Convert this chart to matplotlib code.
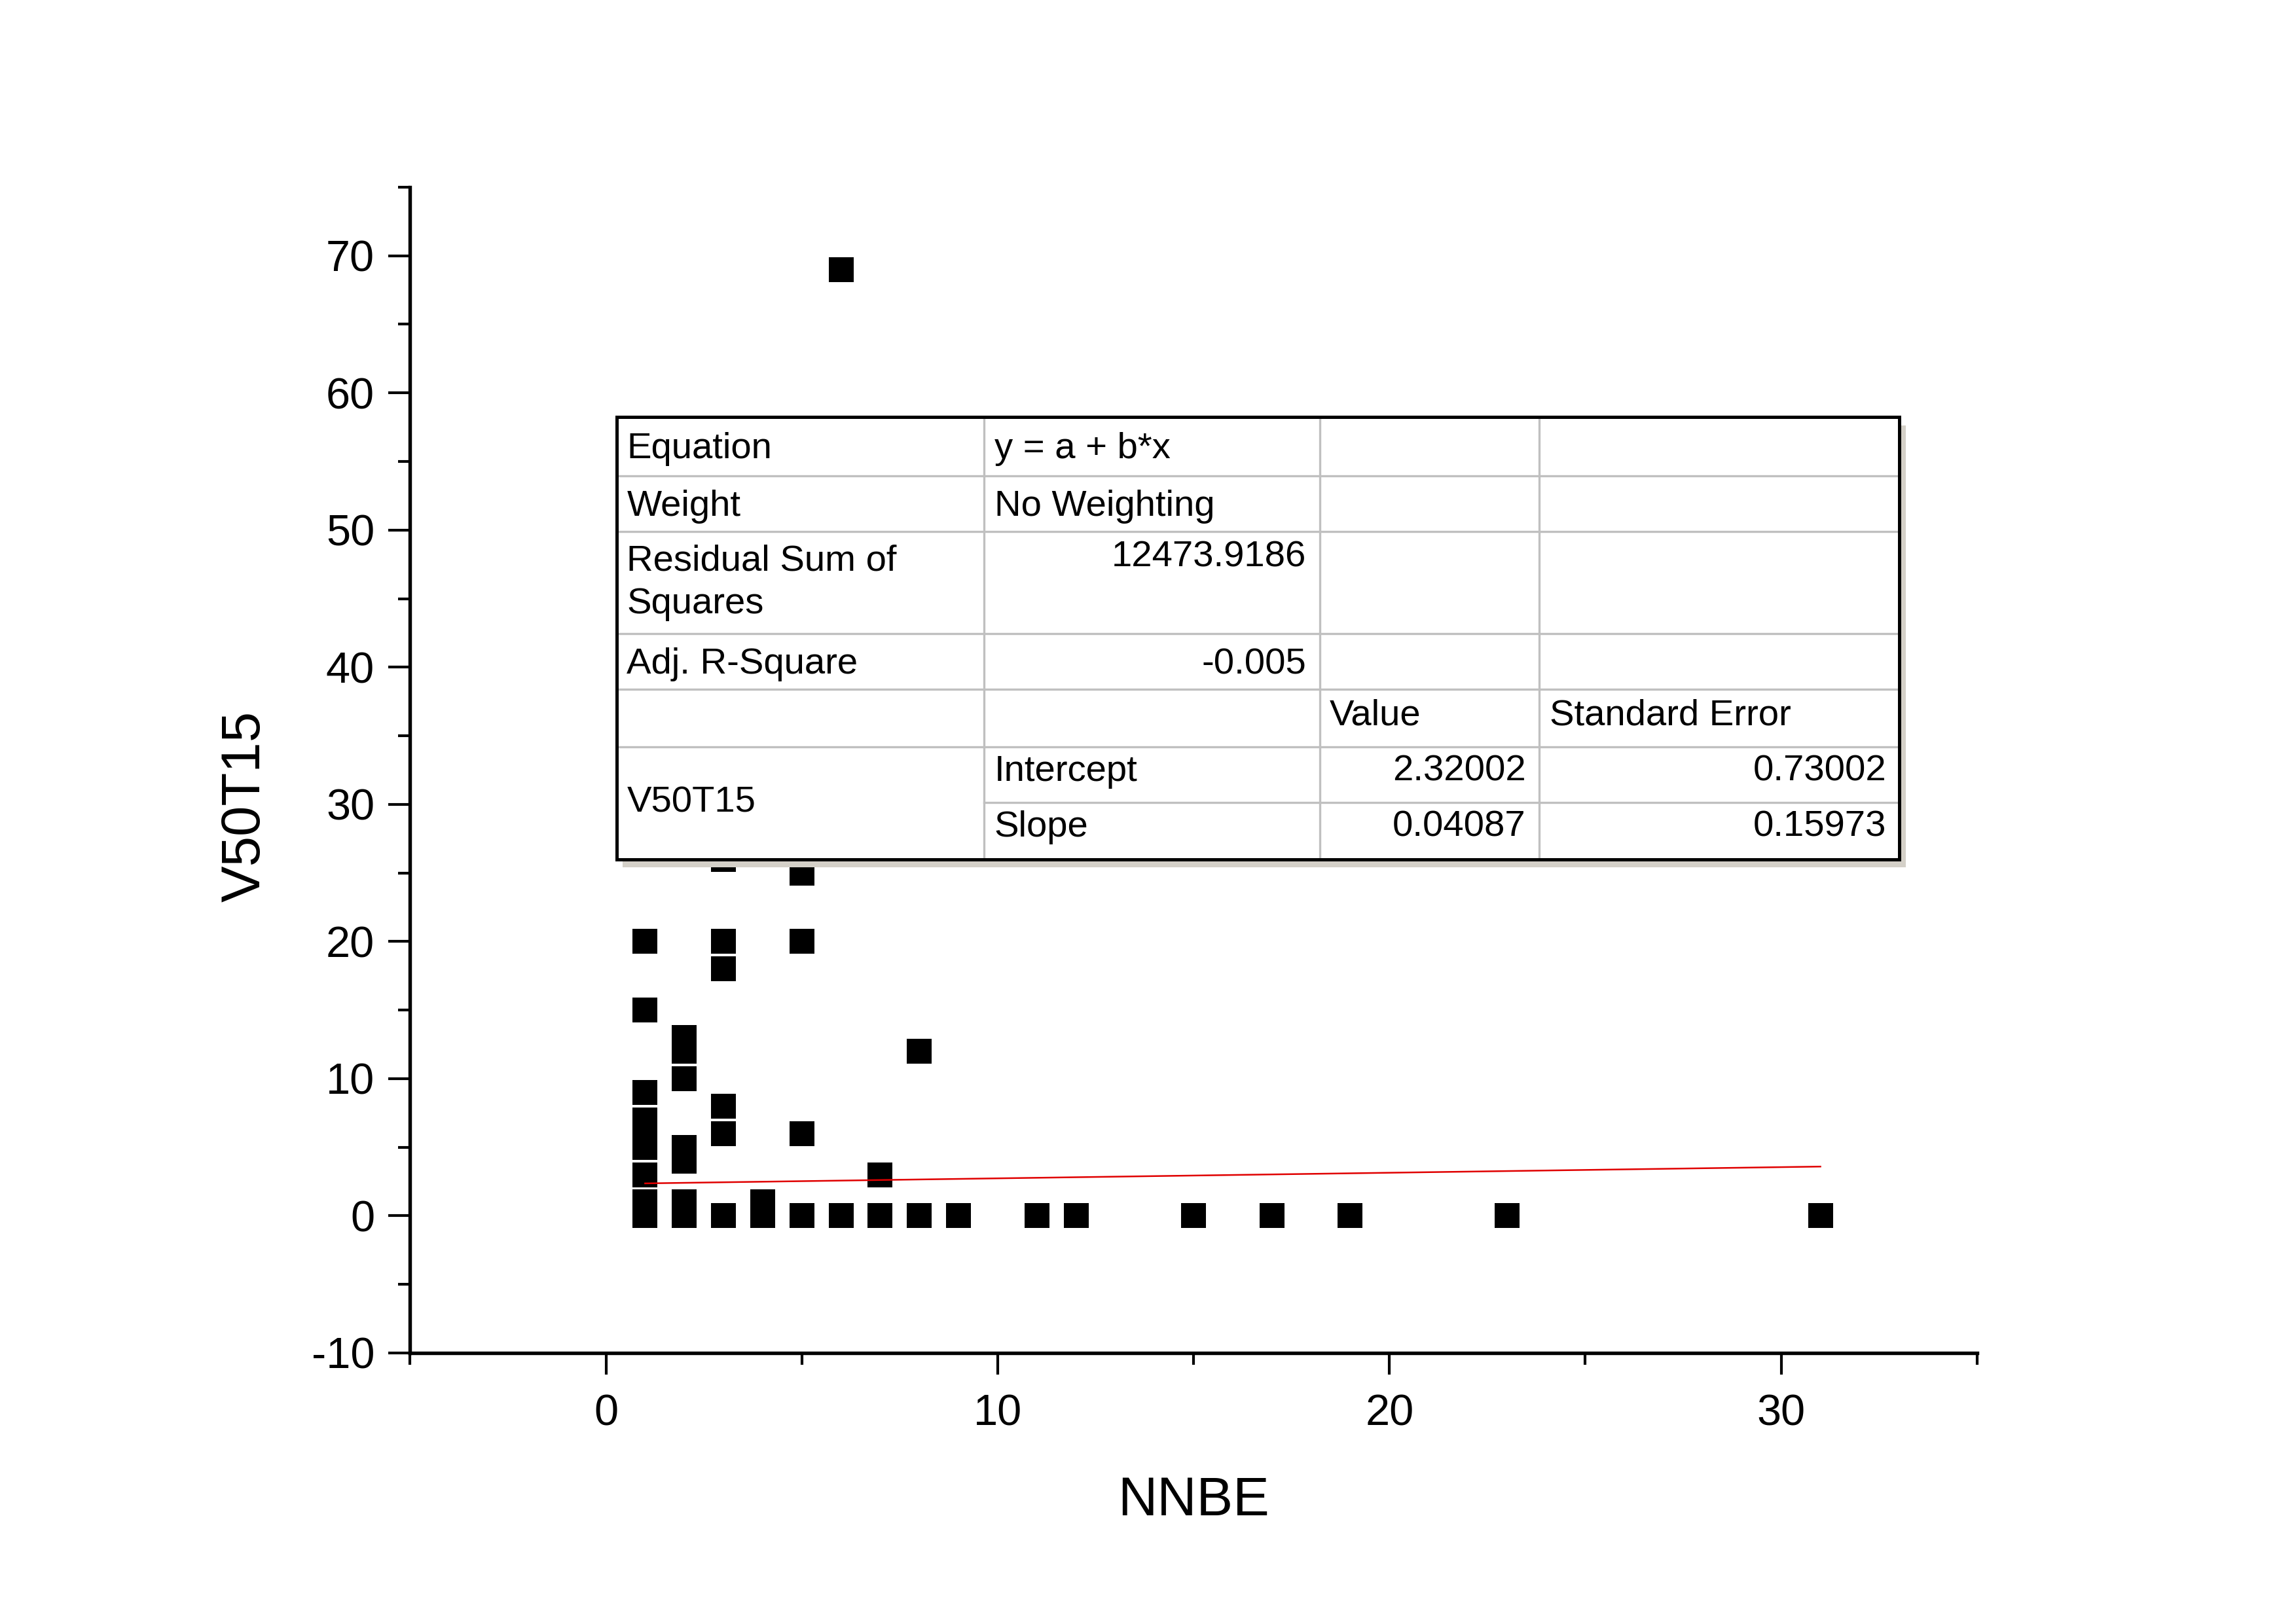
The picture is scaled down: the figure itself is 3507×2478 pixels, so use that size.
import matplotlib
matplotlib.use("Agg")
import matplotlib.pyplot as plt
from matplotlib.patches import Rectangle
from matplotlib.ticker import MultipleLocator

plt.rcParams['font.family'] = ['Liberation Sans', 'DejaVu Sans']
plt.rcParams['axes.unicode_minus'] = False

# datos
nnbe = [1, 1, 1, 1, 1, 1, 1, 1, 1,
        2, 2, 2, 2, 2, 2, 2,
        3, 3, 3, 3, 3, 3,
        4, 4,
        5, 5, 5, 5,
        6, 6,
        7, 7,
        8, 8,
        9, 11, 12, 15, 17, 19, 23, 31]
v50t15 = [0, 1, 3, 5, 6, 7, 9, 15, 20,
          0, 1, 4, 5, 10, 12, 13,
          0, 6, 8, 18, 20, 26,
          0, 1,
          0, 6, 20, 25,
          0, 69,
          0, 3,
          0, 12,
          0, 0, 0, 0, 0, 0, 0, 0]

# ajuste lineal (valores de la tabla)
intercepto = 2.32002
pendiente = 0.04087
fit_x = [1, 31]

tabla = [
    ["Equation", "y = a + b*x", "", ""],
    ["Weight", "No Weighting", "", ""],
    ["Residual Sum of\nSquares", "12473.9186", "", ""],
    ["Adj. R-Square", "-0.005", "", ""],
    ["", "", "Value", "Standard Error"],
    ["V50T15", "Intercept", "2.32002", "0.73002"],
    ["", "Slope", "0.04087", "0.15973"],
]

fig = plt.figure(figsize=(11.69, 8.26), dpi=300)
ax = fig.add_axes([0.1786, 0.1659, 0.6825, 0.7187])

ax.plot(nnbe, v50t15, linestyle='none', marker='s', markersize=9.0,
        markeredgewidth=0, color='black', zorder=3)
fit_y = [intercepto + pendiente * x for x in fit_x]
ax.plot(fit_x, fit_y, color='#e00000', lw=0.6, zorder=4)

ax.set_xlim(-5, 35)
ax.set_ylim(-10, 75)
ax.xaxis.set_major_locator(MultipleLocator(10))
ax.xaxis.set_minor_locator(MultipleLocator(5))
ax.yaxis.set_major_locator(MultipleLocator(10))
ax.yaxis.set_minor_locator(MultipleLocator(5))
for s in ['top', 'right']:
    ax.spines[s].set_visible(False)
for s in ['left', 'bottom']:
    ax.spines[s].set_linewidth(1.3)
ax.tick_params(which='major', length=8, width=1.0, labelsize=16, pad=5)
ax.tick_params(axis='x', which='major', pad=7)
ax.tick_params(which='minor', length=4.4, width=1.0)
ax.set_xlabel("NNBE", fontsize=20, labelpad=15)
ax.set_ylabel("V50T15", fontsize=20)
ax.yaxis.set_label_coords(-0.089, 0.4686)

# tabla de resultados
col_x = [0.1318, 0.3664, 0.5804, 0.7206, 0.9505]
row_y = [0.8028, 0.7525, 0.7048, 0.6168, 0.5691, 0.5201, 0.4724, 0.4234]
texto_y = [0.7751, 0.7261, 0.6608, 0.5905, 0.5465, 0.4988, 0.4510]
tr = ax.transAxes
x0, x1 = col_x[0], col_x[-1]
y0, y1 = row_y[-1], row_y[0]
sombra = Rectangle((x0 + 0.004, y0 - 0.007), x1 - x0, y1 - y0, transform=tr,
                   facecolor='#d4d0c8', edgecolor='none', zorder=5, clip_on=False)
ax.add_patch(sombra)
fondo = Rectangle((x0, y0), x1 - x0, y1 - y0, transform=tr,
                  facecolor='white', edgecolor='none', zorder=6, clip_on=False)
ax.add_patch(fondo)
gris = '#c0c0c0'
for yy in row_y[1:-1]:
    if yy == row_y[6]:
        ax.plot([col_x[1], x1], [yy, yy], transform=tr, color=gris, lw=0.8, zorder=7, clip_on=False)
    else:
        ax.plot([x0, x1], [yy, yy], transform=tr, color=gris, lw=0.8, zorder=7, clip_on=False)
for xx in col_x[1:-1]:
    ax.plot([xx, xx], [y0, y1], transform=tr, color=gris, lw=0.8, zorder=7, clip_on=False)
ax.add_patch(Rectangle((x0, y0), x1 - x0, y1 - y0, transform=tr, facecolor='none',
                       edgecolor='black', lw=1.2, zorder=8, clip_on=False))

pad = 0.0065
for i, fila in enumerate(tabla):
    for j, txt in enumerate(fila):
        if not txt:
            continue
        if i == 5 and j == 0:
            yc = (row_y[5] + row_y[7]) / 2
        elif i == 2 and j > 0:
            yc = 0.6822
        else:
            yc = texto_y[i]
        numero = txt[0].isdigit() or txt[0] == '-'
        if numero:
            xt, ha = col_x[j + 1] - pad * 1.3, 'right'
        else:
            xt, ha = col_x[j] + pad, 'left'
        ax.text(xt, yc, txt, transform=tr, ha=ha, va='center', fontsize=13.5,
                linespacing=1.35, zorder=9, clip_on=False)

fig.savefig("out.png", dpi=300)
